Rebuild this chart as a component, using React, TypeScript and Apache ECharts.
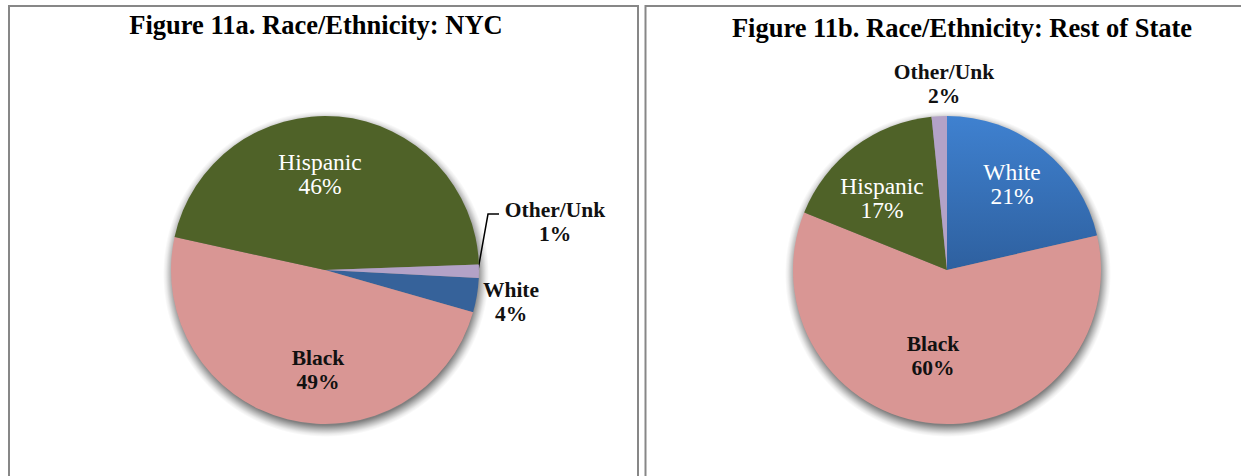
import React, { useEffect, useRef } from "react";
import * as echarts from "echarts";

// ---- data ----
const categories = ["White", "Black", "Hispanic", "Other/Unk"];
const nycValues = [3.6, 49.0, 46.0, 1.4];
const restValues = [21.4, 59.7, 17.3, 1.6];
const titleTexts = [
  "Figure 11a. Race/Ethnicity: NYC",
  "Figure 11b. Race/Ethnicity: Rest of State",
];

// ---- layout / style ----
const W = 1241;
const H = 476;
const FONT = "'Liberation Serif', 'Times New Roman', serif";
const R = 154;
const nycCenter = [325, 270];
const restCenter = [947, 270];
const nycLabelPos = [
  [511, 302],
  [318, 370],
  [320, 174],
  [555, 222],
];
const restLabelPos = [
  [1012, 184],
  [933, 356],
  [882, 198],
  [944, 84],
];

const pink = "#D99694";
const green = "#4F6228";
const lavender = "#B3A2C7";
const nycBlue = "#36629A";
const restBlue = new echarts.graphic.LinearGradient(0, 0, 0, 1, [
  { offset: 0, color: "#3F81D0" },
  { offset: 1, color: "#2E609F" },
]);

const boldDark = { color: "#111", fontWeight: "bold", fontSize: 21.5 };
const lightWhite = { color: "#fff", fontWeight: "normal", fontSize: 23.5 };

function fmt(p: any) {
  return `${p.name}\n${Math.round(p.percent)}%`;
}

const SHADOW_EXTRA = 9;
const SHADOW_DY = 4;
const SHADOW_DX = 1;

export default function App() {
  const ref = useRef<HTMLDivElement>(null);

  useEffect(() => {
    if (!ref.current) return;
    const chart = echarts.init(ref.current, undefined, { renderer: "svg" });

    const nycColors = [nycBlue, pink, green, lavender];
    const nycStyles = [boldDark, boldDark, lightWhite, boldDark];
    const nycPositions = ["outside", "inside", "inside", "outside"];
    const restColors = [restBlue, pink, green, lavender];
    const restStyles = [lightWhite, boldDark, lightWhite, boldDark];
    const restPositions = ["inside", "inside", "inside", "outside"];

    const nycData = categories.map((name, i) => ({
      name,
      value: nycValues[i],
      itemStyle: { color: nycColors[i] },
      label: { position: nycPositions[i], ...nycStyles[i] },
      labelLine: {
        show: i === 3,
        lineStyle: { color: "#000", width: 1.5 },
      },
    }));
    const restData = categories.map((name, i) => ({
      name,
      value: restValues[i],
      itemStyle: { color: restColors[i] },
      label: { position: restPositions[i], ...restStyles[i] },
      labelLine: { show: false },
    }));

    const commonLabel = {
      show: true,
      formatter: fmt,
      fontFamily: FONT,
      lineHeight: 24,
      align: "center",
    };

    const titleStyle = { fontFamily: FONT, fontWeight: "bold", fontSize: 26.5, color: "#000" };

    const rs = R + SHADOW_EXTRA;
    const k = (R - 3) / rs;
    const shadowCircle = (c: number[]) => ({
      type: "circle",
      z: 0,
      silent: true,
      shape: { cx: c[0] + SHADOW_DX, cy: c[1] + SHADOW_DY, r: rs },
      style: {
        fill: new echarts.graphic.RadialGradient(0.5, 0.5, 0.5, [
          { offset: 0, color: "rgba(0,0,0,0.5)" },
          { offset: k, color: "rgba(0,0,0,0.5)" },
          { offset: k + (1 - k) * 0.45, color: "rgba(0,0,0,0.24)" },
          { offset: k + (1 - k) * 0.75, color: "rgba(0,0,0,0.08)" },
          { offset: 1, color: "rgba(0,0,0,0)" },
        ]),
      },
    });

    chart.setOption({
      animation: false,
      backgroundColor: "#fff",
      title: [
        { text: titleTexts[0], left: 311, top: 6, textAlign: "center", textStyle: titleStyle },
        { text: titleTexts[1], left: 957, top: 9, textAlign: "center", textStyle: titleStyle },
      ],
      graphic: [
        {
          type: "rect",
          shape: { x: 9, y: 6, width: 629, height: 520 },
          style: { fill: "none", stroke: "#878787", lineWidth: 2 },
          silent: true,
        },
        {
          type: "rect",
          shape: { x: 645.5, y: 6, width: 640, height: 520 },
          style: { fill: "none", stroke: "#878787", lineWidth: 2 },
          silent: true,
        },
        shadowCircle(nycCenter),
        shadowCircle(restCenter),
      ],
      series: [
        {
          type: "pie",
          z: 2,
          center: nycCenter,
          radius: R,
          startAngle: -3,
          clockwise: true,
          avoidLabelOverlap: false,
          emphasis: { disabled: true },
          label: commonLabel,
          labelLayout: (p: any) => {
            const pos = nycLabelPos[p.dataIndex];
            const out: any = { x: pos[0], y: pos[1], align: "center", verticalAlign: "middle" };
            if (p.dataIndex === 3) {
              out.labelLinePoints = [
                [478, 270],
                [488, 214],
                [499, 214],
              ];
            }
            return out;
          },
          data: nycData,
        },
        {
          type: "pie",
          z: 2,
          center: restCenter,
          radius: R,
          startAngle: 90,
          clockwise: true,
          avoidLabelOverlap: false,
          emphasis: { disabled: true },
          label: commonLabel,
          labelLayout: (p: any) => {
            const pos = restLabelPos[p.dataIndex];
            return { x: pos[0], y: pos[1], align: "center", verticalAlign: "middle" };
          },
          data: restData,
        },
      ],
    });

    return () => chart.dispose();
  }, []);

  return (
    <div
      ref={ref}
      style={{ position: "absolute", left: 0, top: 0, width: W, height: H }}
    />
  );
}
